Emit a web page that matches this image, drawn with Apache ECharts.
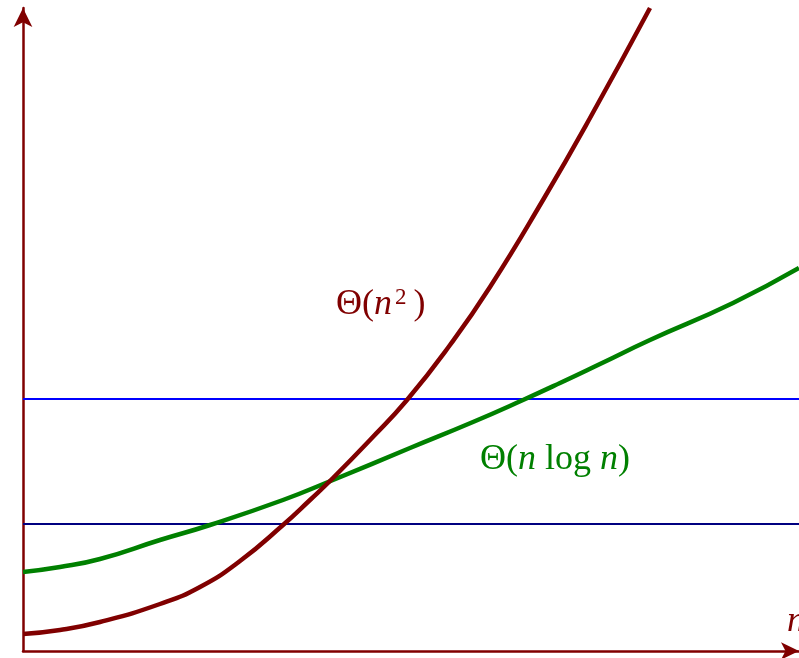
<!DOCTYPE html>
<html>
<head>
<meta charset="utf-8">
<script src="https://cdn.jsdelivr.net/npm/echarts@6/dist/echarts.min.js"></script>
<style>
  html, body { margin: 0; padding: 0; background: #fff; }
  #chart { width: 799px; height: 658px; }
</style>
</head>
<body>
<div id="chart"></div>
<script>
// Growth-rate comparison: quadratic vs. n log n, with two reference levels.
var nValuesSquare = [0, 37, 77, 137, 177, 217, 260, 287, 310, 347, 384, 427, 467, 520, 567, 627];
var costSquare    = [17, 21, 29, 47, 64, 90, 126, 151, 173, 211, 251, 306, 364, 451, 533, 643];

var nValuesNLogN = [0, 37, 77, 137, 187, 260, 310, 387, 450, 500, 537, 577, 627, 710, 776];
var costNLogN    = [79, 84, 92, 111, 126, 151, 171, 203, 229, 251, 268, 287, 311, 348, 383];

var upperLevel = 252;   // blue horizontal line
var lowerLevel = 127;   // navy horizontal line

var xMax = 776;
var yMax = 643;

var darkRed = '#800000';
var green = '#008000';
var serif = 'Liberation Serif';

function pairs(xs, ys) {
  return xs.map(function (x, i) { return [x, ys[i]]; });
}

var chart = echarts.init(document.getElementById('chart'));
chart.setOption({
  animation: false,
  grid: { left: 23, right: 0, top: 8, bottom: 7 },
  xAxis: {
    type: 'value', min: 0, max: xMax,
    axisLine: { show: true, lineStyle: { color: darkRed, width: 2.5 }, symbol: ['none', 'arrow'], symbolSize: [13, 18], onZero: false },
    axisTick: { show: false }, axisLabel: { show: false }, splitLine: { show: false }
  },
  yAxis: {
    type: 'value', min: 0, max: yMax,
    axisLine: { show: true, lineStyle: { color: darkRed, width: 2.5 }, symbol: ['none', 'arrow'], symbolSize: [14, 19], onZero: false },
    axisTick: { show: false }, axisLabel: { show: false }, splitLine: { show: false }
  },
  series: [
    {
      type: 'line', data: [[0, upperLevel], [xMax, upperLevel]],
      symbol: 'none', lineStyle: { color: '#0000ff', width: 2 }, z: 2
    },
    {
      type: 'line', data: [[0, lowerLevel], [xMax, lowerLevel]],
      symbol: 'none', lineStyle: { color: '#000080', width: 2 }, z: 2
    },
    {
      type: 'line', data: pairs(nValuesNLogN, costNLogN), smooth: 0.5,
      symbol: 'none', clip: false, lineStyle: { color: green, width: 4.5 }, z: 3
    },
    {
      type: 'line', data: pairs(nValuesSquare, costSquare), smooth: 0.5,
      symbol: 'none', clip: false, lineStyle: { color: darkRed, width: 4.5 }, z: 4
    }
  ],
  graphic: [
    {
      type: 'text', left: 336, top: 286,
      style: {
        rich: {
          a: { fontFamily: serif, fontSize: 36, fill: darkRed },
          i: { fontFamily: serif, fontStyle: 'italic', fontSize: 36, fill: darkRed },
          s: { fontFamily: serif, fontSize: 23, fill: darkRed, verticalAlign: 'top', padding: [0, 7, 14, 3] }
        },
        text: '{a|Θ(}{i|n}{s|2}{a|)}'
      }
    },
    {
      type: 'text', left: 480, top: 442,
      style: {
        rich: {
          a: { fontFamily: serif, fontSize: 36, fill: green },
          i: { fontFamily: serif, fontStyle: 'italic', fontSize: 36, fill: green }
        },
        text: '{a|Θ(}{i|n}{a| log }{i|n}{a|)}'
      }
    },
    {
      type: 'text', left: 787, top: 604,
      style: { text: 'n', fontFamily: serif, fontStyle: 'italic', fontSize: 36, fill: darkRed }
    }
  ]
});
</script>
</body>
</html>
